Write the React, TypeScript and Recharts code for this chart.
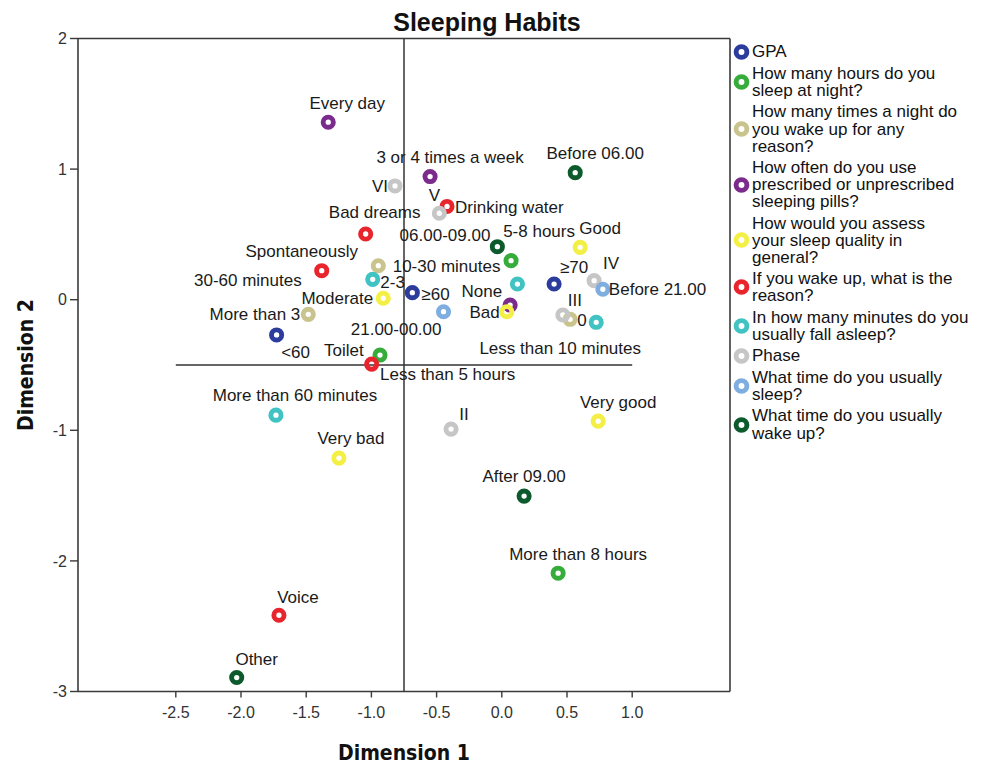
import React from "react";
import { ScatterChart, Scatter, XAxis, YAxis, ReferenceLine } from "recharts";

const FONT = '"Liberation Sans", Arial, Helvetica, sans-serif';
const TITLE_FONT = '"DejaVu Sans Condensed", "DejaVu Sans", sans-serif';

// ---------- data ----------
const chartTitle = "Sleeping Habits";
const xTitle = "Dimension 1";
const yTitle = "Dimension 2";
const xTicks = [-2.5, -2.0, -1.5, -1.0, -0.5, 0.0, 0.5, 1.0];
const yTicks = [-3, -2, -1, 0, 1, 2];
const xDomain = [-3.25, 1.75];
const yDomain = [-3, 2];
const refX = -0.75;
const refY = -0.5;
const refYFrom = -2.5;
const refYTo = 1.0;

const gpa = [
  { label: "<60", x: -1.727, y: -0.27 },
  { label: "≥60", x: -0.686, y: 0.054 },
  { label: "≥70", x: 0.401, y: 0.12 },
];
const hoursSleep = [
  { label: "Less than 5 hours", x: -0.934, y: -0.424 },
  { label: "5-8 hours", x: 0.071, y: 0.299 },
  { label: "More than 8 hours", x: 0.432, y: -2.094 },
];
const wakeTimes = [
  { label: "2-3", x: -0.947, y: 0.26 },
  { label: "More than 3", x: -1.484, y: -0.112 },
  { label: "0", x: 0.524, y: -0.15 },
];
const sleepingPills = [
  { label: "Every day", x: -1.331, y: 1.359 },
  { label: "3 or 4 times a week", x: -0.55, y: 0.943 },
  { label: "None", x: 0.064, y: -0.041 },
];
const sleepQuality = [
  { label: "Good", x: 0.601, y: 0.401 },
  { label: "Moderate", x: -0.909, y: 0.011 },
  { label: "Bad", x: 0.038, y: -0.092 },
  { label: "Very good", x: 0.739, y: -0.93 },
  { label: "Very bad", x: -1.249, y: -1.213 },
];
const wakeReason = [
  { label: "Drinking water", x: -0.42, y: 0.714 },
  { label: "Bad dreams", x: -1.044, y: 0.503 },
  { label: "Spontaneously", x: -1.381, y: 0.222 },
  { label: "Toilet", x: -0.998, y: -0.493 },
  { label: "Voice", x: -1.709, y: -2.416 },
];
const fallAsleep = [
  { label: "30-60 minutes", x: -0.99, y: 0.156 },
  { label: "10-30 minutes", x: 0.12, y: 0.12 },
  { label: "Less than 10 minutes", x: 0.724, y: -0.173 },
  { label: "More than 60 minutes", x: -1.732, y: -0.884 },
];
const phase = [
  { label: "VI", x: -0.819, y: 0.871 },
  { label: "V", x: -0.479, y: 0.662 },
  { label: "IV", x: 0.708, y: 0.146 },
  { label: "III", x: 0.468, y: -0.117 },
  { label: "II", x: -0.389, y: -0.991 },
];
const sleepTime = [
  { label: "Before 21.00", x: 0.775, y: 0.08 },
  { label: "21.00-00.00", x: -0.447, y: -0.092 },
];
const wakeUpTime = [
  { label: "Before 06.00", x: 0.563, y: 0.973 },
  { label: "06.00-09.00", x: -0.034, y: 0.406 },
  { label: "After 09.00", x: 0.171, y: -1.504 },
  { label: "Other", x: -2.033, y: -2.893 },
];

const seriesNames = [
  "GPA",
  "How many hours do you\nsleep at night?",
  "How many times a night do\nyou wake up for any\nreason?",
  "How often do you use\nprescribed or unprescribed\nsleeping pills?",
  "How would you assess\nyour sleep quality in\ngeneral?",
  "If you wake up, what is the\nreason?",
  "In how many minutes do you\nusually fall asleep?",
  "Phase",
  "What time do you usually\nsleep?",
  "What time do you usually\nwake up?",
];
const seriesData = [gpa, hoursSleep, wakeTimes, sleepingPills, sleepQuality, wakeReason, fallAsleep, phase, sleepTime, wakeUpTime];

// ---------- styles ----------
const seriesColors = [
  "#2c3c9c",
  "#36ad3b",
  "#c9c48e",
  "#7b2b8b",
  "#f3ef45",
  "#e8252d",
  "#41c3c3",
  "#c6c6c6",
  "#7eaee0",
  "#0d5b2c",
];

// label placement relative to the point: [dx, dy, anchor]
const labelPlacement: Record<string, [number, number, "start" | "middle" | "end"]> = {
  "<60": [19, 17, "middle"],
  "≥60": [9, 1, "start"],
  "≥70": [20, -17, "middle"],
  "Less than 5 hours": [0, 19, "start"],
  "5-8 hours": [28, -30, "middle"],
  "More than 8 hours": [20, -19, "middle"],
  "2-3": [2, 16, "start"],
  "More than 3": [-8, 0, "end"],
  "0": [7, 1, "start"],
  "Every day": [19, -19, "middle"],
  "3 or 4 times a week": [20, -20, "middle"],
  "None": [-8, -14, "end"],
  "Good": [20, -19, "middle"],
  "Moderate": [-10, 0, "end"],
  "Bad": [-7, 0, "end"],
  "Very good": [20, -19, "middle"],
  "Very bad": [12, -20, "middle"],
  "Drinking water": [8, 0, "start"],
  "Bad dreams": [9, -22, "middle"],
  "Spontaneously": [-20, -20, "middle"],
  "Toilet": [-8, -14, "end"],
  "Voice": [19, -18, "middle"],
  "30-60 minutes": [-71, 1, "end"],
  "10-30 minutes": [-17, -18, "end"],
  "Less than 10 minutes": [-36, 26, "middle"],
  "More than 60 minutes": [19, -20, "middle"],
  "VI": [-7, 0, "end"],
  "V": [-5, -18, "middle"],
  "IV": [17, -18, "middle"],
  "III": [12, -15, "middle"],
  "II": [13, -15, "middle"],
  "Before 21.00": [6, 0, "start"],
  "21.00-00.00": [-2, 17, "end"],
  "Before 06.00": [20, -20, "middle"],
  "06.00-09.00": [-7, -12, "end"],
  "After 09.00": [0, -20, "middle"],
  "Other": [20, -19, "middle"],
};

const makeRing = (color: string) => (props: any) => {
  const { cx, cy, payload } = props;
  if (cx == null || cy == null) return <g />;
  const place = labelPlacement[payload.label] ?? [0, -18, "middle"];
  return (
    <g>
      <circle cx={cx} cy={cy} r={5.1} fill="none" stroke={color} strokeWidth={4.9} />
      <text
        x={cx + place[0]}
        y={cy + place[1]}
        dy="0.36em"
        textAnchor={place[2]}
        fontSize={17}
        fontFamily={FONT}
        fill="#1a1a1a"
      >
        {payload.label}
      </text>
    </g>
  );
};

const LegendBlock = () => (
  <div
    style={{
      position: "absolute",
      left: 732,
      top: 43,
      width: 254,
      fontFamily: FONT,
      fontSize: 17,
      lineHeight: "17.2px",
      color: "#111",
    }}
  >
    {seriesNames.map((name, i) => (
      <div key={i} style={{ display: "flex", alignItems: "center", marginBottom: 4 }}>
        <svg width={20} height={18} style={{ flex: "0 0 auto" }}>
          <circle cx={9.5} cy={9} r={5.4} fill="none" stroke={seriesColors[i]} strokeWidth={4.9} />
        </svg>
        <div>
          {name.split("\n").map((line, j) => (
            <div key={j} style={{ whiteSpace: "nowrap" }}>{line}</div>
          ))}
        </div>
      </div>
    ))}
  </div>
);

const XTitle = (props: any) => {
  const vb = props.viewBox || { x: 78, y: 691, width: 652, height: 73 };
  return (
    <text
      x={vb.x + vb.width / 2}
      y={vb.y + 68}
      textAnchor="middle"
      fontSize={21}
      fontWeight="bold"
      fontFamily={TITLE_FONT}
      fill="#111"
    >
      {xTitle}
    </text>
  );
};

const YTitle = (props: any) => {
  const vb = props.viewBox || { x: 0, y: 38.5, width: 78, height: 652.5 };
  const cx = 25;
  const cy = vb.y + vb.height / 2;
  return (
    <text
      x={cx}
      y={cy}
      dy="0.36em"
      transform={`rotate(-90 ${cx} ${cy})`}
      textAnchor="middle"
      fontSize={21}
      fontWeight="bold"
      fontFamily={TITLE_FONT}
      fill="#111"
    >
      {yTitle}
    </text>
  );
};

const tickStyle = { fill: "#333", fontSize: 16, fontFamily: FONT };
const frame = "#3a3a3a";

export default function App() {
  return (
    <div style={{ position: "absolute", left: 0, top: 0, width: 986, height: 764, background: "#fff" }}>
      <div
        style={{
          position: "absolute",
          left: -6,
          width: 986,
          top: 8,
          textAlign: "center",
          fontFamily: FONT,
          fontWeight: "bold",
          fontSize: 25,
          lineHeight: "28px",
          color: "#111",
        }}
      >
        {chartTitle}
      </div>
      <ScatterChart
        width={986}
        height={764}
        margin={{ top: 38.5, right: 256, bottom: 0, left: 0 }}
        style={{ fontFamily: FONT }}
      >
        <XAxis
          type="number"
          dataKey="x"
          domain={xDomain}
          ticks={xTicks}
          allowDataOverflow
          height={72.5}
          tickSize={6}
          tickMargin={9}
          tick={tickStyle}
          tickFormatter={(v: number) => v.toFixed(1)}
          axisLine={{ stroke: frame, strokeWidth: 1.6 }}
          tickLine={{ stroke: frame, strokeWidth: 1.4 }}
          label={<XTitle />}
        />
        <YAxis
          type="number"
          dataKey="y"
          domain={yDomain}
          ticks={yTicks}
          allowDataOverflow
          width={78}
          tickSize={8}
          tickMargin={3}
          tick={tickStyle}
          tickFormatter={(v: number) => String(v)}
          axisLine={{ stroke: frame, strokeWidth: 1.6 }}
          tickLine={{ stroke: frame, strokeWidth: 1.4 }}
          label={<YTitle />}
        />
        <ReferenceLine y={yDomain[1]} stroke={frame} strokeWidth={1.6} />
        <ReferenceLine x={xDomain[1]} stroke={frame} strokeWidth={1.6} />
        <ReferenceLine x={refX} stroke="#333" strokeWidth={1.5} />
        <ReferenceLine
          segment={[
            { x: refYFrom, y: refY },
            { x: refYTo, y: refY },
          ]}
          stroke="#333"
          strokeWidth={1.5}
        />
        {seriesData.map((data, i) => (
          <Scatter
            key={i}
            name={seriesNames[i]}
            data={data}
            fill={seriesColors[i]}
            shape={makeRing(seriesColors[i])}
            isAnimationActive={false}
          />
        ))}
      </ScatterChart>
      <LegendBlock />
    </div>
  );
}
